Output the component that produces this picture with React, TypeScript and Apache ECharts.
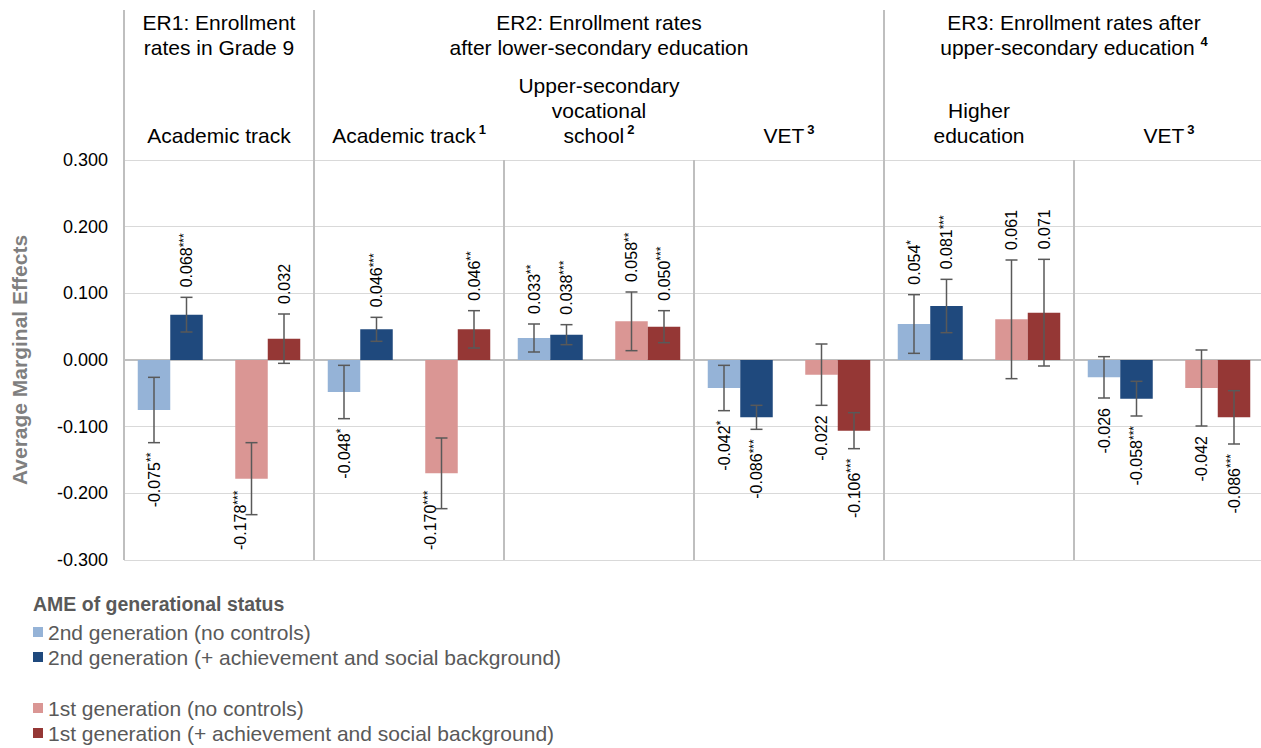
import { useEffect, useRef } from 'react';
import * as echarts from 'echarts';

// Panels along the x axis, with their footnote markers
const panelNames = ['Academic track', 'Academic track', 'Upper-secondary\nvocational\nschool', 'VET', 'Higher\neducation', 'VET'];
const panelNotes = ['', '1', '2', '3', '', '3'];

// Outcome groups, each spanning one or more panels
const groupTitles = [
  'ER1: Enrollment\nrates in Grade 9',
  'ER2: Enrollment rates\nafter lower-secondary education',
  'ER3: Enrollment rates after\nupper-secondary education',
];
const groupNotes = ['', '', '4'];
const groupFirstPanel = [0, 1, 4];
const groupLastPanel = [0, 3, 5];

const seriesNames = [
  '2nd generation (no controls)',
  '2nd generation (+ achievement and social background)',
  '1st generation (no controls)',
  '1st generation (+ achievement and social background)',
];

// Average marginal effects per panel
const secondGenRaw = [-0.075, -0.048, 0.033, -0.042, 0.054, -0.026];
const secondGenControlled = [0.068, 0.046, 0.038, -0.086, 0.081, -0.058];
const firstGenRaw = [-0.178, -0.17, 0.058, -0.022, 0.061, -0.042];
const firstGenControlled = [0.032, 0.046, 0.05, -0.106, 0.071, -0.086];

// Half-widths of the confidence intervals
const secondGenRawCI = [0.049, 0.04, 0.021, 0.034, 0.044, 0.031];
const secondGenControlledCI = [0.026, 0.018, 0.015, 0.018, 0.04, 0.026];
const firstGenRawCI = [0.054, 0.053, 0.044, 0.046, 0.089, 0.057];
const firstGenControlledCI = [0.037, 0.028, 0.024, 0.027, 0.08, 0.04];

// Significance markers
const secondGenRawStars = ['**', '*', '**', '*', '*', ''];
const secondGenControlledStars = ['***', '***', '***', '***', '***', '***'];
const firstGenRawStars = ['***', '***', '**', '', '', ''];
const firstGenControlledStars = ['', '**', '***', '***', '', '***'];

// Axis range
const Y_MIN = -0.3;
const Y_MAX = 0.3;
const Y_STEP = 0.1;

const FONT = '"Liberation Sans", Arial, Helvetica, sans-serif';
const palette = ['#95B3D7', '#1F497D', '#DA9694', '#953735'];
const BAR_W = 32.5;
// bar slot of each series inside a panel; slot 2 is an empty spacer
const SLOTS = [0, 1, 3, 4];
const LABEL_GAP = 10;
const LABEL_SIZE = 16;
const STAR_SIZE = 12;

export default function App() {
  const ref = useRef<HTMLDivElement>(null);

  useEffect(() => {
    if (!ref.current) return;
    const chart = echarts.init(ref.current, null, { renderer: 'svg' });

    const ctx = document.createElement('canvas').getContext('2d')!;
    const measure = (t: string, size: number) => {
      ctx.font = `${size}px ${FONT}`;
      return ctx.measureText(t).width;
    };

    const valueSets = [secondGenRaw, secondGenControlled, firstGenRaw, firstGenControlled];
    const ciSets = [secondGenRawCI, secondGenControlledCI, firstGenRawCI, firstGenControlledCI];
    const starSets = [secondGenRawStars, secondGenControlledStars, firstGenRawStars, firstGenControlledStars];

    const errorItems: number[][] = [];
    const errorStars: string[] = [];
    valueSets.forEach((vals, s) =>
      vals.forEach((v, p) => {
        errorItems.push([p, SLOTS[s], v, ciSets[s][p]]);
        errorStars.push(starSets[s][p]);
      })
    );

    const barSeries = (s: number) => ({
      type: 'bar',
      name: seriesNames[s],
      data: valueSets[s],
      barWidth: BAR_W,
      barGap: '0%',
      itemStyle: { color: palette[s] },
      emphasis: { disabled: true },
    });

    const legendBase = {
      orient: 'vertical',
      left: 33,
      padding: 0,
      itemWidth: 10,
      itemHeight: 10,
      itemGap: 0,
      icon: 'rect',
      selectedMode: false,
      textStyle: { fontFamily: FONT, fontSize: 21, lineHeight: 25, color: '#595959' },
    };

    const option: any = {
      animation: false,
      backgroundColor: '#ffffff',
      textStyle: { fontFamily: FONT },
      title: {
        text: 'AME of generational status',
        left: 33,
        top: 594,
        padding: 0,
        textStyle: { fontFamily: FONT, fontSize: 19.5, fontWeight: 'bold', color: '#595959', lineHeight: 20 },
      },
      legend: [
        { ...legendBase, top: 619.5, data: [seriesNames[0], seriesNames[1]] },
        { ...legendBase, top: 695.5, data: [seriesNames[2], seriesNames[3]] },
      ],
      grid: { left: 124, top: 160, width: 1140, height: 400, outerBoundsMode: 'none' },
      xAxis: [
        {
          type: 'category',
          data: panelNames,
          position: 'bottom',
          axisLine: { onZero: true, lineStyle: { color: '#bfbfbf', width: 2 } },
          axisTick: { show: false },
          axisLabel: { show: false },
          splitLine: { show: true, interval: 0, lineStyle: { color: '#bfbfbf', width: 2 } },
        },
        {
          type: 'category',
          data: panelNames,
          position: 'top',
          axisLine: { show: false },
          axisTick: { show: false },
          splitLine: { show: false },
          axisLabel: {
            interval: 0,
            margin: 12,
            fontFamily: FONT,
            fontSize: 21,
            lineHeight: 25,
            color: '#000',
            formatter: (value: string, index: number) =>
              panelNotes[index] ? `${value}{sup|${panelNotes[index]}}` : value,
            rich: {
              sup: { fontFamily: FONT, fontSize: 13, fontWeight: 'bold', color: '#000', verticalAlign: 'top', lineHeight: 14, padding: [0, 0, 0, 3] },
            },
          },
        },
      ],
      yAxis: {
        type: 'value',
        min: Y_MIN,
        max: Y_MAX,
        interval: Y_STEP,
        axisLine: { show: false },
        axisTick: { show: false },
        splitLine: { lineStyle: { color: '#d9d9d9', width: 1 } },
        axisLabel: {
          margin: 16,
          fontFamily: FONT,
          fontSize: 18,
          color: '#000',
          formatter: (v: number) => (Math.abs(v) < 1e-9 ? 0 : v).toFixed(3),
        },
        name: 'Average Marginal Effects',
        nameLocation: 'middle',
        nameRotate: 90,
        nameGap: 94,
        nameTextStyle: { fontFamily: FONT, fontSize: 21, fontWeight: 'bold', color: '#7f7f7f' },
      },
      series: [
        barSeries(0),
        barSeries(1),
        {
          type: 'bar',
          name: 'spacer',
          data: panelNames.map(() => '-'),
          barWidth: BAR_W,
          barGap: '0%',
          silent: true,
        },
        barSeries(2),
        barSeries(3),
        {
          // confidence intervals and value labels
          type: 'custom',
          silent: true,
          z: 5,
          data: errorItems,
          encode: { x: 0, y: 2 },
          renderItem: (params: any, api: any) => {
            const p = api.value(0);
            const slot = api.value(1);
            const v = api.value(2);
            const m = api.value(3);
            const x = api.coord([p, v])[0] + (slot - 2) * BAR_W;
            const yHi = api.coord([p, v + m])[1];
            const yLo = api.coord([p, v - m])[1];
            const plotBottom = api.coord([p, Y_MIN])[1];
            const cap = 6;
            const stroke = { stroke: '#595959', lineWidth: 1.5 };

            const valueText = v.toFixed(3);
            const st = errorStars[params.dataIndex];
            const text = st ? `{v|${valueText}}{s|${st}}` : `{v|${valueText}}`;
            const len = measure(valueText, LABEL_SIZE) + (st ? measure(st, STAR_SIZE) : 0);

            let lx = x;
            let ly: number;
            let align: string;
            if (v >= 0) {
              ly = yHi - LABEL_GAP;
              align = 'left';
            } else if (yLo + LABEL_GAP + len <= plotBottom - 8) {
              ly = yLo + LABEL_GAP;
              align = 'right';
            } else {
              // no room under the interval: put the label beside it, above the plot's bottom
              lx = x - 11;
              ly = plotBottom - 10;
              align = 'left';
            }

            return {
              type: 'group',
              children: [
                { type: 'line', shape: { x1: x, y1: yHi, x2: x, y2: yLo }, style: stroke },
                { type: 'line', shape: { x1: x - cap, y1: yHi, x2: x + cap, y2: yHi }, style: stroke },
                { type: 'line', shape: { x1: x - cap, y1: yLo, x2: x + cap, y2: yLo }, style: stroke },
                {
                  type: 'text',
                  x: lx,
                  y: ly,
                  rotation: Math.PI / 2,
                  style: {
                    text,
                    align,
                    verticalAlign: 'middle',
                    fill: '#000',
                    rich: {
                      v: { fontFamily: FONT, fontSize: LABEL_SIZE, lineHeight: 18, fill: '#000' },
                      s: { fontFamily: FONT, fontSize: STAR_SIZE, lineHeight: 11, verticalAlign: 'top', fill: '#000' },
                    },
                  },
                },
              ],
            };
          },
        },
        {
          // group headings and the separators that run up through them
          type: 'custom',
          silent: true,
          clip: false,
          data: groupFirstPanel.map((f, i) => [f, groupLastPanel[i], Y_MAX]),
          encode: { x: [0, 1], y: 2 },
          renderItem: (params: any, api: any) => {
            const first = api.value(0);
            const last = api.value(1);
            const band = api.coord([1, Y_MAX])[0] - api.coord([0, Y_MAX])[0];
            const top = api.coord([first, Y_MAX])[1];
            const left = api.coord([first, Y_MAX])[0] - band / 2;
            const right = api.coord([last, Y_MAX])[0] + band / 2;
            const note = groupNotes[params.dataIndex];
            const title = groupTitles[params.dataIndex] + (note ? ` {sup|${note}}` : '');
            return {
              type: 'group',
              children: [
                {
                  type: 'line',
                  shape: { x1: left, y1: top - 150, x2: left, y2: top },
                  style: { stroke: '#bfbfbf', lineWidth: 2 },
                },
                {
                  type: 'text',
                  x: (left + right) / 2,
                  y: top - 150,
                  style: {
                    text: title,
                    align: 'center',
                    verticalAlign: 'top',
                    fontFamily: FONT,
                    fontSize: 21,
                    lineHeight: 25,
                    fill: '#000',
                    rich: {
                      sup: { fontFamily: FONT, fontSize: 13, fontWeight: 'bold', fill: '#000', verticalAlign: 'top', lineHeight: 14 },
                    },
                  },
                },
              ],
            };
          },
        },
      ],
    };

    chart.setOption(option);
    return () => chart.dispose();
  }, []);

  return (
    <div
      ref={ref}
      style={{ position: 'fixed', left: 0, top: 0, width: 1261, height: 748, background: '#ffffff' }}
    />
  );
}
